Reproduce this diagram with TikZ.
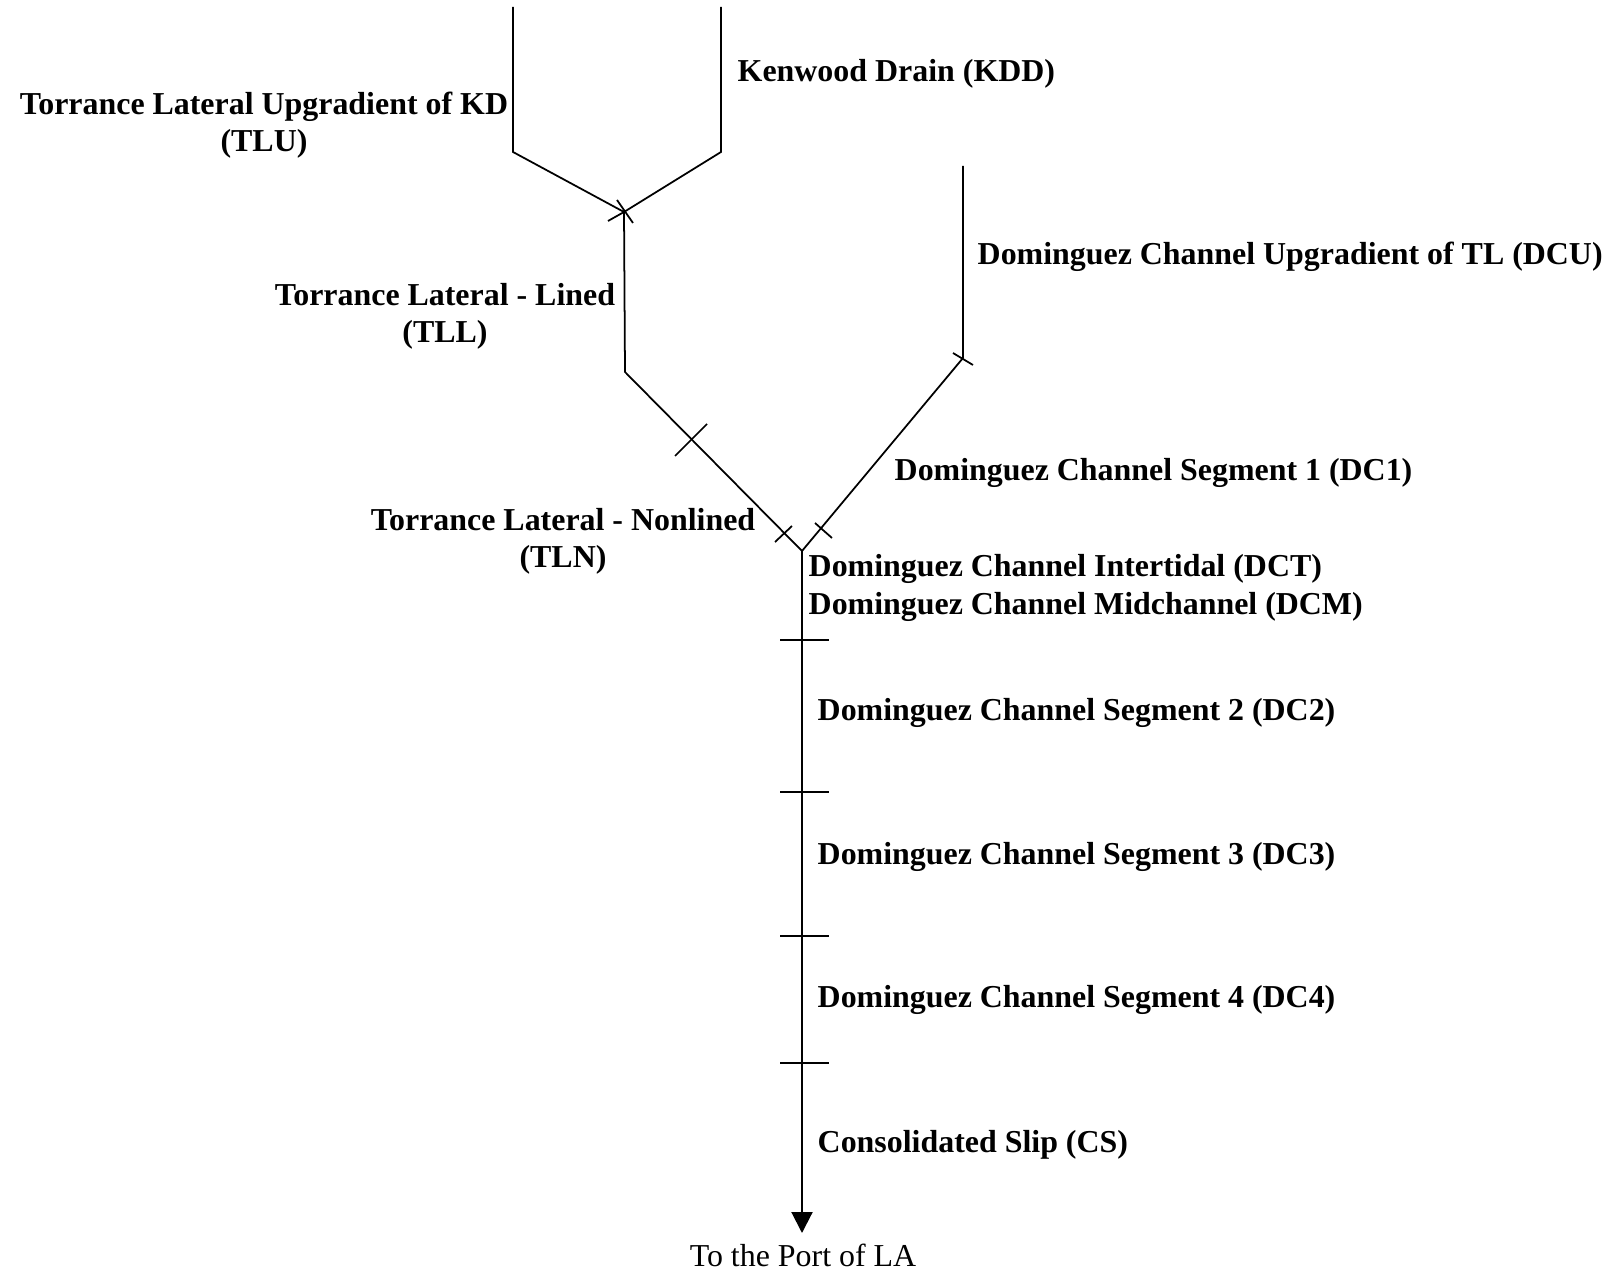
\documentclass[tikz,border=0pt]{standalone}
\usepackage{fontspec}
\setmainfont{Liberation Serif}
\usetikzlibrary{arrows.meta}
\newcommand{\flowtip}{Triangle[width=2.1mm,length=2.1mm]}
\tikzset{
  channel/.style={line width=0.5pt},
  tickmark/.style={line width=0.5pt},
  reach/.style={font=\fontsize{9.08}{10.6}\selectfont\bfseries, inner sep=0pt},
}

\begin{document}
\begin{tikzpicture}
  % General frame is (0,0) to (16.19,-12.68)
  \useasboundingbox (0,0) rectangle (16.19,-12.68);

  % network points
  \coordinate (tluTop) at (5.13,-0.07);
  \coordinate (tluBend) at (5.13,-1.52);
  \coordinate (kddTop) at (7.21,-0.07);
  \coordinate (kddBend) at (7.21,-1.52);
  \coordinate (jKD) at (6.24,-2.12);
  \coordinate (tllBend) at (6.25,-3.72);
  \coordinate (dcuTop) at (9.63,-1.66);
  \coordinate (dcuBend) at (9.63,-3.58);
  \coordinate (jDC) at (8.02,-5.51);
  \coordinate (portEnd) at (8.02,-12.33);

  % upper laterals
  \draw[channel] (tluTop) -- (tluBend) -- (jKD);
  \draw[channel] (kddTop) -- (kddBend) -- (jKD);
  \draw[tickmark] (6.17,-2.00) -- (6.33,-2.23);
  \draw[tickmark] (6.08,-2.21) -- (jKD);

  % Torrance Lateral
  \draw[channel] (jKD) -- (tllBend) -- (jDC);
  \draw[tickmark] (6.75,-4.56) -- (7.07,-4.24);
  \draw[tickmark] (7.75,-5.42) -- (7.92,-5.26);

  % Dominguez Channel upgradient
  \draw[channel] (dcuTop) -- (dcuBend) -- (jDC);
  \draw[tickmark] (9.53,-3.53) -- (9.73,-3.65);
  \draw[tickmark] (8.15,-5.23) -- (8.32,-5.38);

  % main channel to the port
  \draw[channel, line width=0.6pt, -\flowtip] (jDC) -- (portEnd);
  \draw[tickmark] (7.80,-6.40) -- (8.29,-6.40);
  \draw[tickmark] (7.80,-7.92) -- (8.29,-7.92);
  \draw[tickmark] (7.80,-9.36) -- (8.29,-9.36);
  \draw[tickmark] (7.80,-10.63) -- (8.29,-10.63);

  % labels
  \node[reach, anchor=west] (kdd) at (7.37,-0.74) {Kenwood Drain (KDD)};
  \node[reach, align=center] (tlu) at (2.64,-1.25) {Torrance Lateral Upgradient of KD\\(TLU)};
  \node[reach, align=center] (tll) at (4.45,-3.16) {Torrance Lateral - Lined\\(TLL)};
  \node[reach, anchor=west] (dcu) at (9.77,-2.57) {Dominguez Channel Upgradient of TL (DCU)};
  \node[reach, anchor=west] (dc1) at (8.94,-4.73) {Dominguez Channel Segment 1 (DC1)};
  \node[reach, align=center] (tln) at (5.63,-5.41) {Torrance Lateral - Nonlined\\(TLN)};
  \node[reach, anchor=west, align=left] (dct) at (8.08,-5.88) {Dominguez Channel Intertidal (DCT)\\Dominguez Channel Midchannel (DCM)};
  \node[reach, anchor=west] (dc2) at (8.17,-7.13) {Dominguez Channel Segment 2 (DC2)};
  \node[reach, anchor=west] (dc3) at (8.17,-8.57) {Dominguez Channel Segment 3 (DC3)};
  \node[reach, anchor=west] (dc4) at (8.17,-10.00) {Dominguez Channel Segment 4 (DC4)};
  \node[reach, anchor=west] (cs) at (8.17,-11.45) {Consolidated Slip (CS)};
  \node[inner sep=0pt, font=\fontsize{9.08}{10.6}\selectfont] (port) at (8.03,-12.55) {To the Port of LA};

\end{tikzpicture}
\end{document}
